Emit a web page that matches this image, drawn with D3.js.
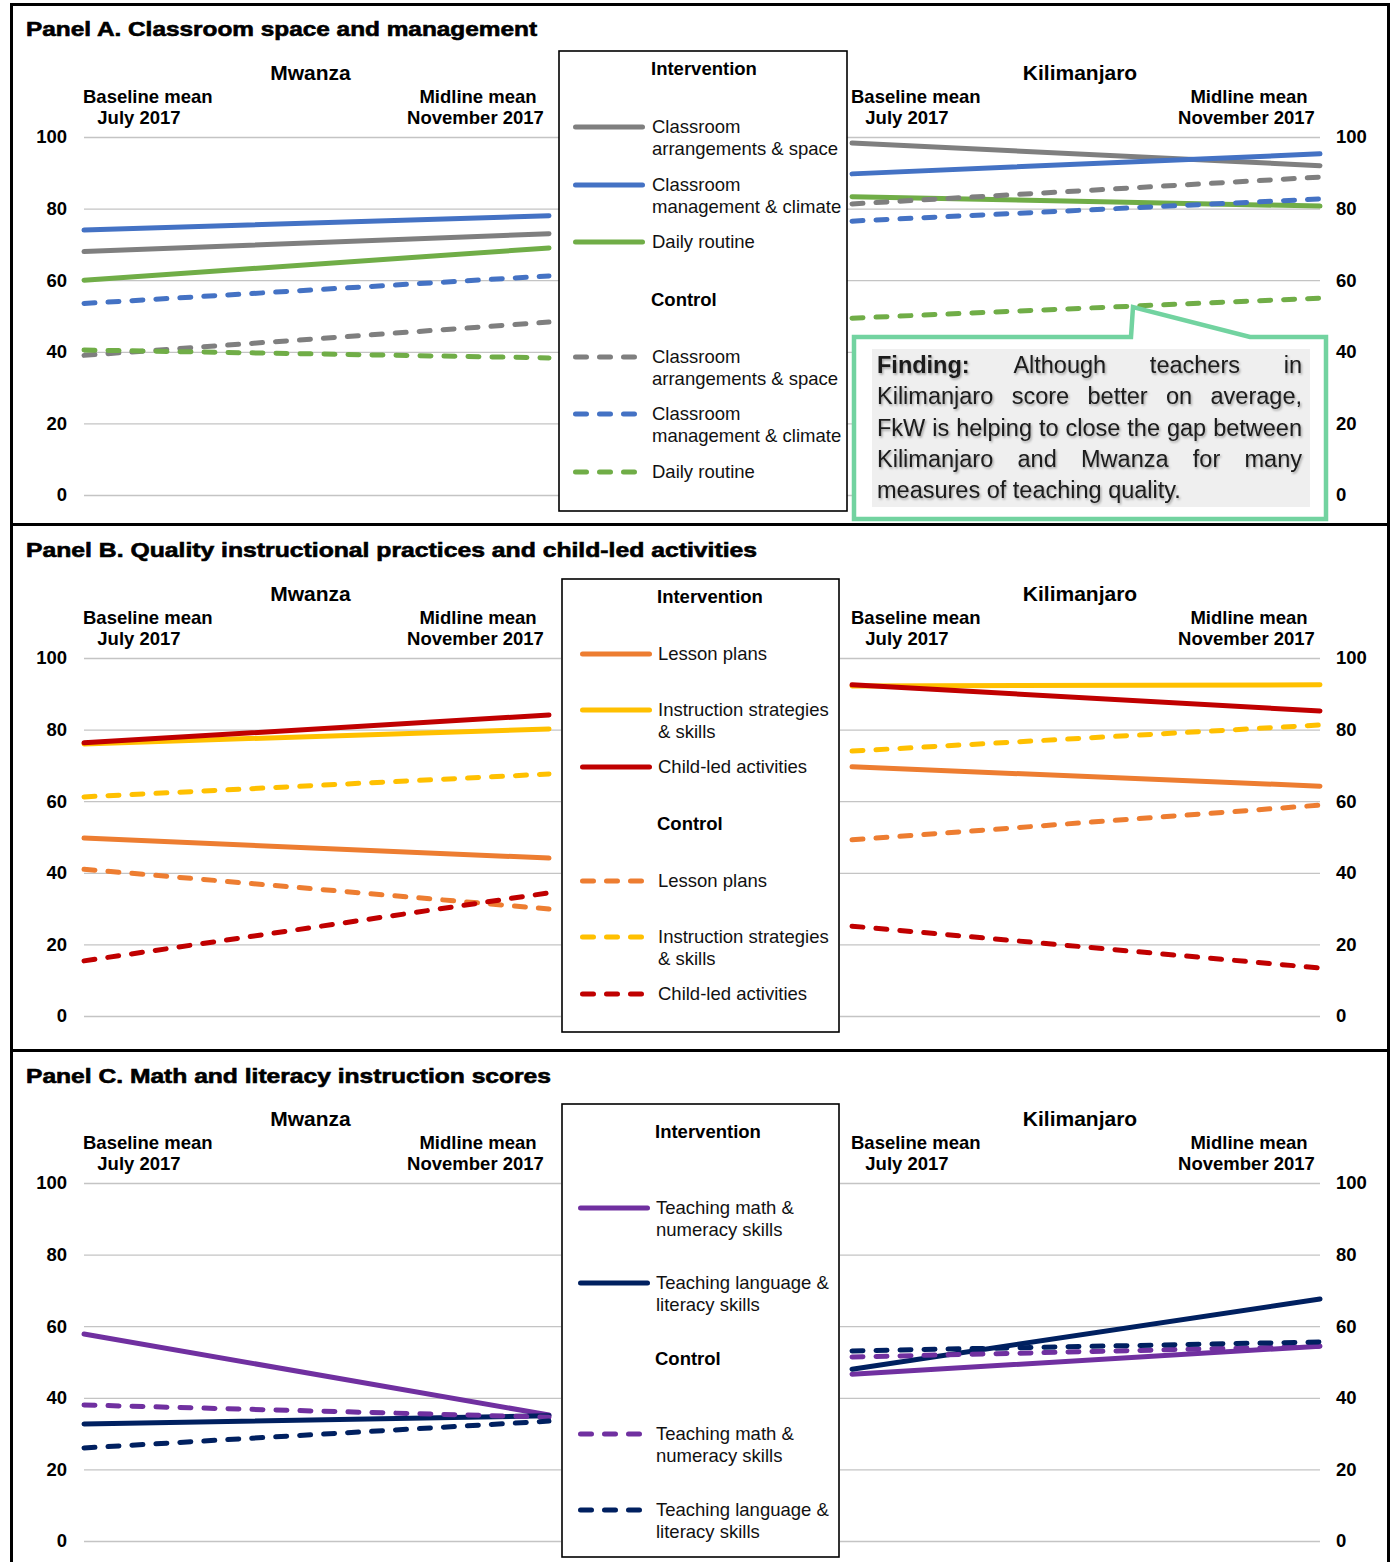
<!DOCTYPE html>
<html>
<head>
<meta charset="utf-8">
<script src="https://cdn.jsdelivr.net/npm/d3@7"></script>
<style>
  body { margin: 0; background: #fff; }
  svg { display: block; font-family: "Liberation Sans", Arial, sans-serif; }
</style>
</head>
<body>
<svg id="chart" width="1394" height="1562"></svg>
<script>
// ---------- data ----------
const periods = ["Baseline", "Midline"];
const regions = ["Mwanza", "Kilimanjaro"];
const groups = ["Intervention", "Control"];
const yTicks = [0, 20, 40, 60, 80, 100];
const headerLeft = ["Baseline mean", "July 2017"];
const headerRight = ["Midline mean", "November 2017"];

const panelTitles = [
  "Panel A. Classroom space and management",
  "Panel B. Quality instructional practices and child-led activities",
  "Panel C. Math and literacy instruction scores"
];

// Panel A: classroom space and management  ([baseline, midline] per measure)
const panelAMeasures = [["Classroom", "arrangements & space"], ["Classroom", "management & climate"], ["Daily routine"]];
const panelAMwanzaIntervention = [[68, 73], [74, 78], [60, 69]];
const panelAMwanzaControl = [[39, 48.3], [53.5, 61.2], [40.5, 38.3]];
const panelAKiliIntervention = [[98.3, 92], [89.7, 95.3], [83.3, 80.7]];
const panelAKiliControl = [[81.3, 88.8], [76.5, 82.7], [49.4, 55]];

// Panel B: quality instructional practices and child-led activities
const panelBMeasures = [["Lesson plans"], ["Instruction strategies", "& skills"], ["Child-led activities"]];
const panelBMwanzaIntervention = [[49.7, 44.1], [76, 80.2], [76.3, 84.1]];
const panelBMwanzaControl = [[41, 29.9], [61.2, 67.6], [15.4, 34.4]];
const panelBKiliIntervention = [[69.6, 64.2], [92.2, 92.5], [92.5, 85.2]];
const panelBKiliControl = [[49.2, 58.9], [74, 81.3], [25.1, 13.4]];

// Panel C: math and literacy instruction scores
const panelCMeasures = [["Teaching math &", "numeracy skills"], ["Teaching language &", "literacy skills"]];
const panelCMwanzaIntervention = [[57.8, 35.2], [32.7, 35]];
const panelCMwanzaControl = [[38, 34.6], [26, 33.5]];
const panelCKiliIntervention = [[46.6, 54.4], [48, 67.6]];
const panelCKiliControl = [[51.4, 54.4], [53.1, 55.6]];

// Finding box text, one array of words per line
const calloutLines = [
  ["Finding:", "Although", "teachers", "in"],
  ["Kilimanjaro", "score", "better", "on", "average,"],
  ["FkW", "is", "helping", "to", "close", "the", "gap", "between"],
  ["Kilimanjaro", "and", "Mwanza", "for", "many"],
  ["measures", "of", "teaching", "quality."]
];

// ---------- styles ----------
const panelAColors = ["#7f7f7f", "#4472c4", "#70ad47"];
const panelBColors = ["#ed7d31", "#ffc000", "#c00000"];
const panelCColors = ["#7030a0", "#002060"];

// ---------- layout ----------
const svg = d3.select("#chart");
const defs = svg.append("defs");
const shadow = defs.append("filter").attr("id", "textShadow")
  .attr("x", "-10%").attr("y", "-40%").attr("width", "130%").attr("height", "180%");
shadow.append("feDropShadow").attr("dx", 1.2).attr("dy", 1.6).attr("stdDeviation", 0.9)
  .attr("flood-color", "#000").attr("flood-opacity", 0.35);

const regionGeom = {
  Mwanza:      { x0: 84,  x1: 549,  g0: 84,  g1: 561,  side: "left" },
  Kilimanjaro: { x0: 852, x1: 1320, g0: 840, g1: 1320, side: "right" }
};

const LW = 5;           // series stroke width
const DASH = "11,13";   // control series dash pattern

const panels = [
  {
    title: panelTitles[0], titleW: 511, titleY: 36, gy100: 137, gy0: 495,
    measures: panelAMeasures, colors: panelAColors,
    values: { Mwanza: [panelAMwanzaIntervention, panelAMwanzaControl],
              Kilimanjaro: [panelAKiliIntervention, panelAKiliControl] },
    legend: { x: 559, y: 51, w: 288, h: 460, lx0: 573, lx1: 645, tx: 651,
              head: [69, 300], rows: [[127, 185, 242], [357, 414, 472]] }
  },
  {
    title: panelTitles[1], titleW: 731, titleY: 557, gy100: 658, gy0: 1016,
    measures: panelBMeasures, colors: panelBColors,
    values: { Mwanza: [panelBMwanzaIntervention, panelBMwanzaControl],
              Kilimanjaro: [panelBKiliIntervention, panelBKiliControl] },
    legend: { x: 562, y: 579, w: 277, h: 453, lx0: 580, lx1: 652, tx: 657,
              head: [597, 824], rows: [[654, 710, 767], [881, 937, 994]] }
  },
  {
    title: panelTitles[2], titleW: 525, titleY: 1083, gy100: 1183, gy0: 1541,
    measures: panelCMeasures, colors: panelCColors,
    values: { Mwanza: [panelCMwanzaIntervention, panelCMwanzaControl],
              Kilimanjaro: [panelCKiliIntervention, panelCKiliControl] },
    legend: { x: 562, y: 1104, w: 277, h: 453, lx0: 578, lx1: 650, tx: 655,
              head: [1132, 1359], rows: [[1208, 1283], [1434, 1510]] }
  }
];

const scales = {};   // kept for the callout anchor

panels.forEach((p, pi) => {
  const g = svg.append("g").attr("class", "panel");

  // panel heading
  g.append("text")
    .attr("x", 26).attr("y", p.titleY)
    .attr("font-size", 20).attr("font-weight", "bold")
    .attr("stroke", "#000").attr("stroke-width", 0.6)
    .attr("textLength", p.titleW).attr("lengthAdjust", "spacingAndGlyphs")
    .text(p.title);

  const yS = d3.scaleLinear().domain([0, 100]).range([p.gy0, p.gy100]);

  regions.forEach(r => {
    const geo = regionGeom[r];
    const xS = d3.scalePoint().domain(periods).range([geo.x0, geo.x1]).padding(0);
    scales[pi + r] = { x: xS, y: yS };
    const rg = g.append("g");

    // gridlines and value labels
    const axis = (geo.side === "left" ? d3.axisLeft(yS) : d3.axisRight(yS))
      .tickValues(yTicks)
      .tickSize(-(geo.g1 - geo.g0))
      .tickPadding(geo.side === "left" ? 17 : 16)
      .tickFormat(d3.format("d"));
    const ax = rg.append("g")
      .attr("transform", `translate(${geo.side === "left" ? geo.g0 : geo.g1},0)`)
      .call(axis);
    ax.select(".domain").remove();
    ax.selectAll(".tick line").attr("stroke", "#c4c4c4").attr("stroke-width", 1.3);
    ax.selectAll(".tick text")
      .attr("font-family", "Liberation Sans, Arial, sans-serif")
      .attr("font-size", 18.5).attr("font-weight", "bold").attr("fill", "#000");

    // headers
    const mid = (geo.x0 + geo.x1) / 2 - 6;
    rg.append("text").attr("x", mid).attr("y", p.gy100 - 57)
      .attr("text-anchor", "middle").attr("font-size", 21).attr("font-weight", "bold")
      .text(r);
    rg.append("text").attr("x", geo.x0 - 1).attr("y", p.gy100 - 34)
      .attr("font-size", 18.5).attr("font-weight", "bold").text(headerLeft[0]);
    rg.append("text").attr("x", geo.x0 + 55).attr("y", p.gy100 - 13)
      .attr("text-anchor", "middle").attr("font-size", 18.5).attr("font-weight", "bold").text(headerLeft[1]);
    rg.append("text").attr("x", geo.x1 - 71).attr("y", p.gy100 - 34)
      .attr("text-anchor", "middle").attr("font-size", 18.5).attr("font-weight", "bold").text(headerRight[0]);
    rg.append("text").attr("x", geo.x1 - 73.5).attr("y", p.gy100 - 13)
      .attr("text-anchor", "middle").attr("font-size", 18.5).attr("font-weight", "bold").text(headerRight[1]);

    // series lines: intervention (solid) first, control (dashed) on top
    const line = d3.line().x((d, i) => xS(periods[i])).y(d => yS(d));
    p.values[r].forEach((set, gi) => {
      set.forEach((vals, mi) => {
        rg.append("path")
          .attr("d", line(vals))
          .attr("fill", "none")
          .attr("stroke", p.colors[mi])
          .attr("stroke-width", LW)
          .attr("stroke-linecap", "round")
          .attr("stroke-dasharray", gi === 1 ? DASH : null);
      });
    });
  });

  // legend
  const L = p.legend;
  const lg = g.append("g");
  lg.append("rect").attr("x", L.x).attr("y", L.y).attr("width", L.w).attr("height", L.h)
    .attr("fill", "#fff").attr("stroke", "#000").attr("stroke-width", 1.6);
  groups.forEach((grp, gi) => {
    lg.append("text").attr("x", L.tx).attr("y", L.head[gi]).attr("dy", "0.35em")
      .attr("font-size", 18.5).attr("font-weight", "bold").text(grp);
    p.measures.forEach((lines, mi) => {
      const yy = L.rows[gi][mi];
      const x0 = L.lx0 + LW / 2;
      const x1 = gi === 0 ? L.lx1 - LW / 2 : x0 + 11 + 13 + 11 + 13 + 11;
      lg.append("line").attr("x1", x0).attr("x2", x1).attr("y1", yy).attr("y2", yy)
        .attr("stroke", p.colors[mi]).attr("stroke-width", LW).attr("stroke-linecap", "round")
        .attr("stroke-dasharray", gi === 1 ? DASH : null);
      lines.forEach((t, k) => {
        lg.append("text").attr("x", L.tx + 1).attr("y", yy + k * 21.5).attr("dy", "0.35em")
          .attr("font-size", 18.5).attr("fill", "#111").text(t);
      });
    });
  });
});

// ---------- finding callout (panel A, Kilimanjaro) ----------
{
  const s = scales["0Kilimanjaro"];
  const anchorVals = panelAKiliControl[2];
  const tipX = 1133;
  const t = (tipX - s.x(periods[0])) / (s.x(periods[1]) - s.x(periods[0]));
  const tipY = s.y(anchorVals[0] + t * (anchorVals[1] - anchorVals[0])) + 1;
  const box = { x0: 854, x1: 1326, top: 337, bottom: 519, baseL: 1131, baseR: 1250 };
  const cg = svg.append("g");
  cg.append("path")
    .attr("d", `M${box.x0},${box.top}H${box.baseL}L${tipX},${tipY}L${box.baseR},${box.top}H${box.x1}V${box.bottom}H${box.x0}Z`)
    .attr("fill", "#fff").attr("stroke", "#72d3a0").attr("stroke-width", 4.5)
    .attr("stroke-linejoin", "miter");
  cg.append("rect").attr("x", 872).attr("y", 349).attr("width", 438).attr("height", 158)
    .attr("fill", "#efefef");

  const tx0 = 877, tx1 = 1302;
  calloutLines.forEach((words, li) => {
    const yb = 373 + li * 31.3;
    const nodes = words.map((w, wi) => cg.append("text")
      .attr("y", yb).attr("font-size", 23.5)
      .attr("font-weight", li === 0 && wi === 0 ? "bold" : "normal")
      .attr("fill", "#1a1a1a").attr("filter", "url(#textShadow)")
      .text(w));
    const widths = nodes.map(n => n.node().getComputedTextLength());
    const last = li === calloutLines.length - 1;
    const gap = last ? 6.5 : (tx1 - tx0 - d3.sum(widths)) / (words.length - 1);
    let x = tx0;
    nodes.forEach((n, i) => { n.attr("x", x); x += widths[i] + gap; });
  });
}

// ---------- outer frame and panel separators ----------
svg.append("rect").attr("x", 11.5).attr("y", 4.5).attr("width", 1377).attr("height", 1620)
  .attr("fill", "none").attr("stroke", "#000").attr("stroke-width", 3);
[524.5, 1050.5].forEach(yy => {
  svg.append("line").attr("x1", 11).attr("x2", 1389).attr("y1", yy).attr("y2", yy)
    .attr("stroke", "#000").attr("stroke-width", 3);
});
</script>
</body>
</html>
